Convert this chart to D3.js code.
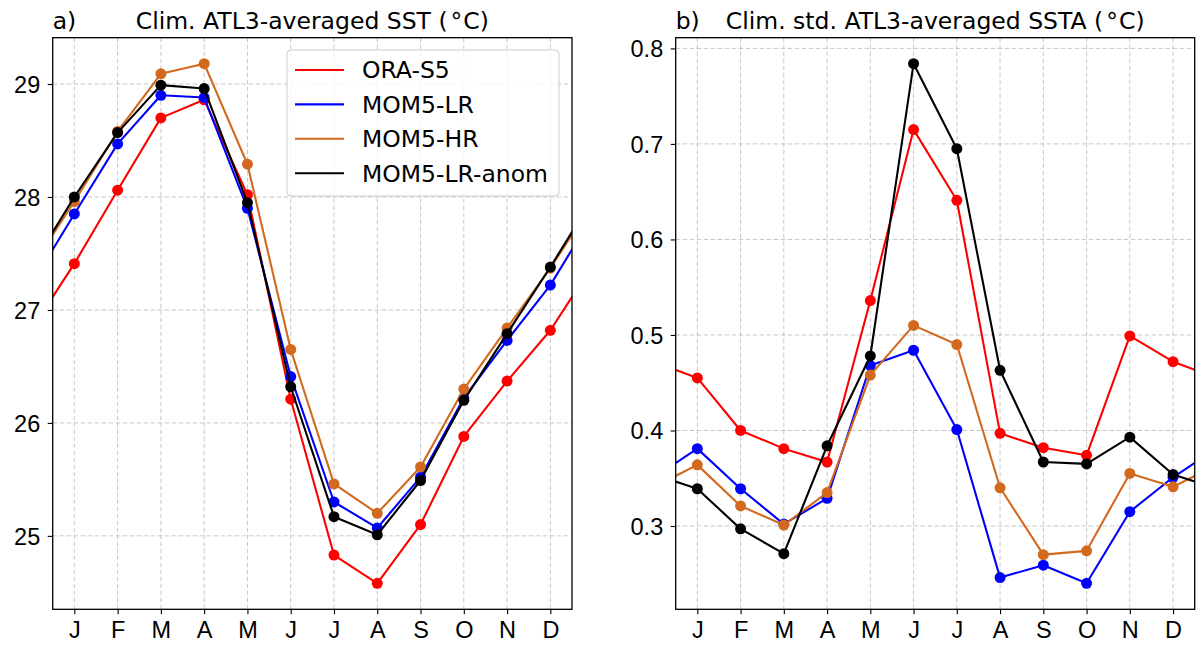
<!DOCTYPE html>
<html>
<head>
<meta charset="utf-8">
<script src="https://cdn.jsdelivr.net/npm/d3@7"></script>
<style>
  body { margin: 0; background: #fff; }
  svg { display: block; font-family: "DejaVu Sans", sans-serif; }
  .tick text { font-size: 23.5px; fill: #000; }
  .tick line { stroke: #000; stroke-width: 1.1; }
  .domain { display: none; }
  .grid line { stroke: #b0b0b0; stroke-opacity: 0.7; stroke-width: 1; stroke-dasharray: 4.5,2.5; }
</style>
</head>
<body>
<svg id="chart" width="1200" height="647"></svg>
<script>
// ── Data ──
const months = ["J", "F", "M", "A", "M", "J", "J", "A", "S", "O", "N", "D"];
const seriesNames = ["ORA-S5", "MOM5-LR", "MOM5-HR", "MOM5-LR-anom"];
const seriesColors = ["#ff0000", "#0000ff", "#d2691e", "#000000"];

// panel a) climatological SST
const sstOra   = [27.41, 28.06, 28.70, 28.86, 28.02, 26.21, 24.83, 24.58, 25.10, 25.88, 26.37, 26.82];
const sstLR    = [27.85, 28.47, 28.90, 28.88, 27.90, 26.41, 25.30, 25.07, 25.52, 26.22, 26.73, 27.22];
const sstHR    = [27.96, 28.58, 29.09, 29.18, 28.29, 26.65, 25.46, 25.20, 25.61, 26.30, 26.84, 27.37];
const sstAnom  = [28.00, 28.57, 28.99, 28.96, 27.95, 26.32, 25.17, 25.01, 25.49, 26.20, 26.79, 27.38];

// panel b) std of SSTA
const stdOra   = [0.455, 0.400, 0.381, 0.367, 0.536, 0.715, 0.641, 0.397, 0.382, 0.374, 0.499, 0.472];
const stdLR    = [0.381, 0.339, 0.302, 0.329, 0.468, 0.484, 0.401, 0.246, 0.259, 0.240, 0.315, 0.351];
const stdHR    = [0.364, 0.321, 0.301, 0.335, 0.458, 0.510, 0.490, 0.340, 0.270, 0.274, 0.355, 0.341];
const stdAnom  = [0.339, 0.297, 0.271, 0.384, 0.478, 0.784, 0.695, 0.463, 0.367, 0.365, 0.393, 0.354];

const sstTicks = [25, 26, 27, 28, 29];
const stdTicks = [0.3, 0.4, 0.5, 0.6, 0.7, 0.8];

const FS = 23.5;
const svg = d3.select("#chart");

// ── One panel ──
function drawPanel(opts) {
  const { id, left, right, top, bottom, series, yTicks, yFormat, letter, title, legend } = opts;

  const x = d3.scaleLinear().domain([-0.5, 11.5]).range([left, right]);
  const all = series.flat();
  const lo = d3.min(all), hi = d3.max(all), pad = (hi - lo) * 0.05;
  const y = d3.scaleLinear().domain([lo - pad, hi + pad]).range([bottom, top]);

  const g = svg.append("g");

  g.append("clipPath").attr("id", id)
    .append("rect")
    .attr("x", left).attr("y", top)
    .attr("width", right - left).attr("height", bottom - top);

  // grid
  const grid = g.append("g").attr("class", "grid");
  grid.selectAll("line.v").data(d3.range(12)).join("line")
    .attr("class", "v")
    .attr("x1", d => x(d)).attr("x2", d => x(d))
    .attr("y1", top).attr("y2", bottom);
  grid.selectAll("line.h").data(yTicks).join("line")
    .attr("class", "h")
    .attr("x1", left).attr("x2", right)
    .attr("y1", d => y(d)).attr("y2", d => y(d));

  // axes
  g.append("g")
    .attr("transform", `translate(0,${bottom})`)
    .call(d3.axisBottom(x).tickValues(d3.range(12)).tickFormat(i => months[i])
      .tickSize(5).tickPadding(7.5));
  g.append("g")
    .attr("transform", `translate(${left},0)`)
    .call(d3.axisLeft(y).tickValues(yTicks).tickFormat(yFormat)
      .tickSize(5).tickPadding(7.5))
    .selectAll("text").attr("dy", "0.36em");

  // lines (cyclic: Dec before Jan, Jan after Dec)
  const line = d3.line().x(d => x(d[0])).y(d => y(d[1]));
  const plot = g.append("g").attr("clip-path", `url(#${id})`);
  series.forEach((vals, k) => {
    const pts = [[-1, vals[11]], ...vals.map((v, i) => [i, v]), [12, vals[0]]];
    plot.append("path")
      .attr("d", line(pts))
      .attr("fill", "none")
      .attr("stroke", seriesColors[k])
      .attr("stroke-width", 2.1)
      .attr("stroke-linejoin", "round");
    plot.selectAll(null).data(vals).join("circle")
      .attr("cx", (d, i) => x(i))
      .attr("cy", d => y(d))
      .attr("r", 5.5)
      .attr("fill", seriesColors[k]);
  });

  // frame
  g.append("rect")
    .attr("x", left).attr("y", top)
    .attr("width", right - left).attr("height", bottom - top)
    .attr("fill", "none").attr("stroke", "#000").attr("stroke-width", 1.3);

  // titles (degree sign spaced like mathtext)
  g.append("text").attr("x", left).attr("y", top - 9)
    .attr("font-size", FS).text(letter);
  const t = g.append("text").attr("x", (left + right) / 2).attr("y", top - 9)
    .attr("font-size", FS).attr("text-anchor", "middle");
  t.append("tspan").text(title + " (");
  t.append("tspan").attr("dx", 3).text("\u00b0");
  t.append("tspan").attr("dx", 1).text("C)");

  if (legend) {
    const lx = 287, ly = 50, lw = 272, lh = 146;
    const lg = g.append("g");
    lg.append("rect")
      .attr("x", lx).attr("y", ly).attr("width", lw).attr("height", lh)
      .attr("rx", 4)
      .attr("fill", "#fff").attr("fill-opacity", 0.8)
      .attr("stroke", "#cccccc").attr("stroke-width", 1);
    seriesNames.forEach((name, k) => {
      const cy = 70 + k * 34.4;
      lg.append("line")
        .attr("x1", 295).attr("x2", 344).attr("y1", cy).attr("y2", cy)
        .attr("stroke", seriesColors[k]).attr("stroke-width", 2.1);
      lg.append("text")
        .attr("x", 362).attr("y", cy).attr("dy", "0.36em")
        .attr("font-size", FS).text(name);
    });
  }
}

drawPanel({
  id: "clipA", left: 52.7, right: 572, top: 37.7, bottom: 609.3,
  series: [sstOra, sstLR, sstHR, sstAnom],
  yTicks: sstTicks, yFormat: d3.format("d"),
  letter: "a)", title: "Clim. ATL3-averaged SST", legend: true
});

drawPanel({
  id: "clipB", left: 675.7, right: 1194.7, top: 37.7, bottom: 609.3,
  series: [stdOra, stdLR, stdHR, stdAnom],
  yTicks: stdTicks, yFormat: d3.format(".1f"),
  letter: "b)", title: "Clim. std. ATL3-averaged SSTA", legend: false
});
</script>
</body>
</html>
